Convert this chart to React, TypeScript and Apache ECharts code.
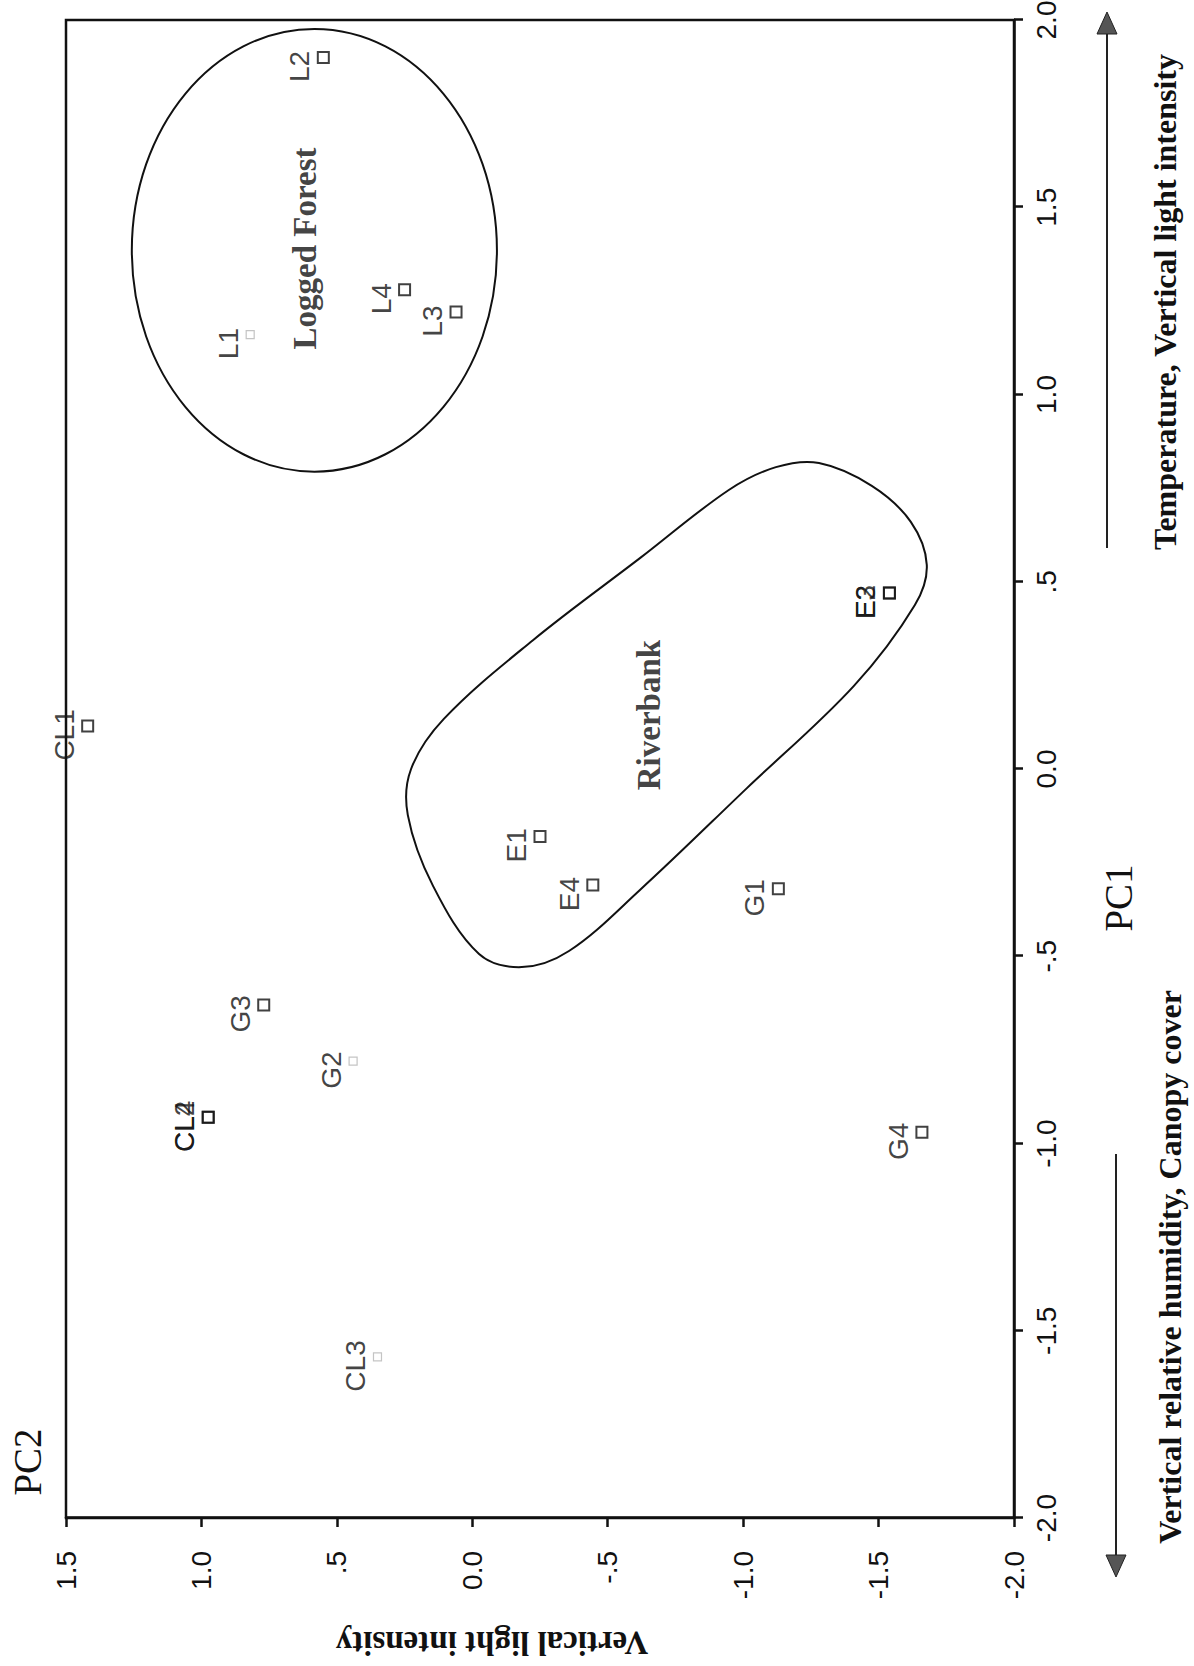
import React, { useEffect, useRef } from 'react';
import * as echarts from 'echarts';

// ---- Data (PCA site scores) ----
const SITES = ['L2', 'L4', 'L3', 'L1', 'E3', 'E2', 'CL1', 'E1', 'E4', 'G1', 'G3', 'G2', 'CL2', 'CL4', 'G4', 'CL3'];
const PC1_SCORES = [1.9, 1.28, 1.22, 1.16, 0.47, 0.47, 0.115, -0.18, -0.31, -0.32, -0.63, -0.78, -0.93, -0.93, -0.97, -1.57];
const PC2_SCORES = [0.55, 0.25, 0.06, 0.82, -1.54, -1.54, 1.42, -0.25, -0.445, -1.13, 0.77, 0.44, 0.975, 0.975, -1.66, 0.35];
const FAINT_SITES = ['L1', 'G2', 'CL3'];

// ---- Tick labels (SPSS style) ----
const PC1_TICK_LABELS = ['-2.0', '-1.5', '-1.0', '-.5', '0.0', '.5', '1.0', '1.5', '2.0'];
const PC2_TICK_LABELS = ['-2.0', '-1.5', '-1.0', '-.5', '0.0', '.5', '1.0', '1.5'];

// ---- Group annotations ----
const GROUP_NAMES = ['Logged Forest', 'Riverbank'];
const GROUP_LABEL_PC1 = [1.39, 0.144];
const GROUP_LABEL_PC2 = [0.618, -0.652];

const LOGGED_CENTER = [1.385, 0.583];
const LOGGED_RADII = [0.591, 0.674];

const RIVERBANK_PC1 = [0.817, 0.756, 0.66, 0.545, 0.438, 0.222, -0.051, -0.323, -0.486, -0.529, -0.494, -0.312, -0.123, 0.0, 0.134, 0.344, 0.563, 0.745, 0.806];
const RIVERBANK_PC2 = [-1.28, -1.475, -1.619, -1.678, -1.634, -1.409, -1.014, -0.619, -0.357, -0.183, -0.025, 0.145, 0.238, 0.226, 0.105, -0.224, -0.619, -0.947, -1.121];

// ---- Texts ----
const X_TITLE = 'PC1';
const Y_TITLE = 'PC2';
const Y_SUBTITLE = 'Vertical light intensity';
const POS_PC1_TEXT = 'Temperature, Vertical light intensity';
const NEG_PC1_TEXT = 'Vertical relative humidity, Canopy cover';

const INK = '#111';

export default function App() {
  const ref = useRef<HTMLDivElement>(null);

  useEffect(() => {
    if (!ref.current) return;
    const chart = echarts.init(ref.current, null, { renderer: 'svg' });

    const siteData = SITES.map((s, i) => {
      const faint = FAINT_SITES.includes(s);
      return {
        name: s,
        value: [PC1_SCORES[i], PC2_SCORES[i]],
        symbolSize: faint ? 8 : 11,
        itemStyle: faint
          ? { color: 'rgba(0,0,0,0)', borderColor: '#b5b5b5', borderWidth: 1.2 }
          : { color: 'rgba(0,0,0,0)', borderColor: INK, borderWidth: 2 },
      };
    });

    const groupData = GROUP_NAMES.map((n, i) => ({ name: n, value: [GROUP_LABEL_PC1[i], GROUP_LABEL_PC2[i]] }));

    const option: any = {
      animation: false,
      backgroundColor: '#fff',
      textStyle: { fontFamily: 'Liberation Sans' },
      grid: {
        left: 148,
        right: 20,
        top: 66,
        bottom: 180,
        show: true,
        borderColor: INK,
        borderWidth: 2.5,
        backgroundColor: 'transparent',
        outerBoundsMode: 'none',
      },
      xAxis: {
        type: 'value',
        min: -2,
        max: 2,
        interval: 0.5,
        axisLine: { show: true, onZero: false, lineStyle: { color: INK, width: 2.5 } },
        axisTick: { show: true, length: 9, lineStyle: { color: INK, width: 2.5 } },
        splitLine: { show: false },
        axisLabel: {
          formatter: (v: number) => PC1_TICK_LABELS[Math.round((v + 2) / 0.5)],
          fontSize: 28,
          fontFamily: 'Liberation Sans',
          color: INK,
          margin: 18,
        },
      },
      yAxis: {
        type: 'value',
        min: -2,
        max: 1.5,
        interval: 0.5,
        axisLine: { show: true, onZero: false, lineStyle: { color: INK, width: 2.5 } },
        axisTick: { show: true, length: 9, lineStyle: { color: INK, width: 2.5 } },
        splitLine: { show: false },
        axisLabel: {
          formatter: (v: number) => PC2_TICK_LABELS[Math.round((v + 2) / 0.5)],
          fontSize: 28,
          fontFamily: 'Liberation Sans',
          color: INK,
          margin: 33,
        },
      },
      series: [
        {
          type: 'custom',
          silent: true,
          z: 2,
          data: [[LOGGED_CENTER[0], LOGGED_CENTER[1], LOGGED_RADII[0], LOGGED_RADII[1]]],
          encode: { x: 0, y: 1 },
          renderItem: (params: any, api: any) => {
            const c = api.coord([api.value(0), api.value(1)]);
            const s = api.size([api.value(2), api.value(3)]);
            return {
              type: 'ellipse',
              shape: { cx: c[0], cy: c[1], rx: s[0], ry: s[1] },
              style: { fill: 'none', stroke: INK, lineWidth: 2 },
            };
          },
        },
        {
          type: 'custom',
          silent: true,
          z: 2,
          data: RIVERBANK_PC1.map((v, i) => [v, RIVERBANK_PC2[i]]),
          encode: { x: 0, y: 1 },
          renderItem: (params: any, api: any) => {
            if (params.dataIndex !== 0) return null;
            const pts = RIVERBANK_PC1.map((v, i) => api.coord([v, RIVERBANK_PC2[i]]));
            return {
              type: 'polygon',
              shape: { points: pts, smooth: 0.35 },
              style: { fill: 'none', stroke: INK, lineWidth: 2 },
            };
          },
        },
        {
          type: 'scatter',
          symbol: 'rect',
          z: 3,
          data: siteData,
          label: {
            show: true,
            position: 'top',
            distance: 3,
            offset: [-9, 0],
            formatter: '{b}',
            fontSize: 28,
            fontFamily: 'Liberation Sans',
            color: INK,
          },
        },
        {
          type: 'scatter',
          symbolSize: 1,
          z: 3,
          silent: true,
          itemStyle: { color: 'rgba(0,0,0,0)' },
          data: groupData,
          label: {
            show: true,
            position: 'inside',
            formatter: '{b}',
            fontSize: 33,
            fontWeight: 'bold',
            fontFamily: 'Liberation Serif',
            color: INK,
          },
        },
      ],
      graphic: [
        {
          type: 'text',
          x: 204,
          y: 27,
          style: { text: Y_TITLE, font: '39px "Liberation Serif"', fill: INK, align: 'center', verticalAlign: 'middle' },
        },
        {
          type: 'text',
          x: 768,
          y: 1118,
          style: { text: X_TITLE, font: '39px "Liberation Serif"', fill: INK, align: 'center', verticalAlign: 'middle' },
        },
        {
          type: 'text',
          x: 23,
          y: 492,
          rotation: Math.PI / 2,
          style: { text: Y_SUBTITLE, font: 'bold 33px "Liberation Serif"', fill: INK, align: 'center', verticalAlign: 'middle' },
        },
        {
          type: 'text',
          x: 1364,
          y: 1165,
          style: { text: POS_PC1_TEXT, font: 'bold 32px "Liberation Serif"', fill: INK, align: 'center', verticalAlign: 'middle' },
        },
        {
          type: 'text',
          x: 399,
          y: 1170,
          style: { text: NEG_PC1_TEXT, font: 'bold 32px "Liberation Serif"', fill: INK, align: 'center', verticalAlign: 'middle' },
        },
        {
          type: 'line',
          shape: { x1: 1118, y1: 1107, x2: 1636, y2: 1107 },
          style: { stroke: '#222', lineWidth: 2 },
        },
        {
          type: 'polygon',
          shape: { points: [[1654, 1107], [1632, 1097], [1632, 1117]] },
          style: { fill: '#555', stroke: '#222', lineWidth: 1 },
        },
        {
          type: 'line',
          shape: { x1: 512, y1: 1116, x2: 107, y2: 1116 },
          style: { stroke: '#222', lineWidth: 2 },
        },
        {
          type: 'polygon',
          shape: { points: [[89, 1116], [111, 1106], [111, 1126]] },
          style: { fill: '#555', stroke: '#222', lineWidth: 1 },
        },
      ],
    };

    chart.setOption(option);
    return () => chart.dispose();
  }, []);

  return (
    <div
      style={{
        position: 'absolute',
        left: 0,
        top: 0,
        width: 1194,
        height: 1666,
        overflow: 'hidden',
        background: '#fff',
      }}
    >
      <div
        ref={ref}
        style={{
          position: 'absolute',
          left: 0,
          top: 0,
          width: 1666,
          height: 1194,
          transformOrigin: '0 0',
          transform: 'translate(0px, 1666px) rotate(-90deg)',
        }}
      />
    </div>
  );
}
